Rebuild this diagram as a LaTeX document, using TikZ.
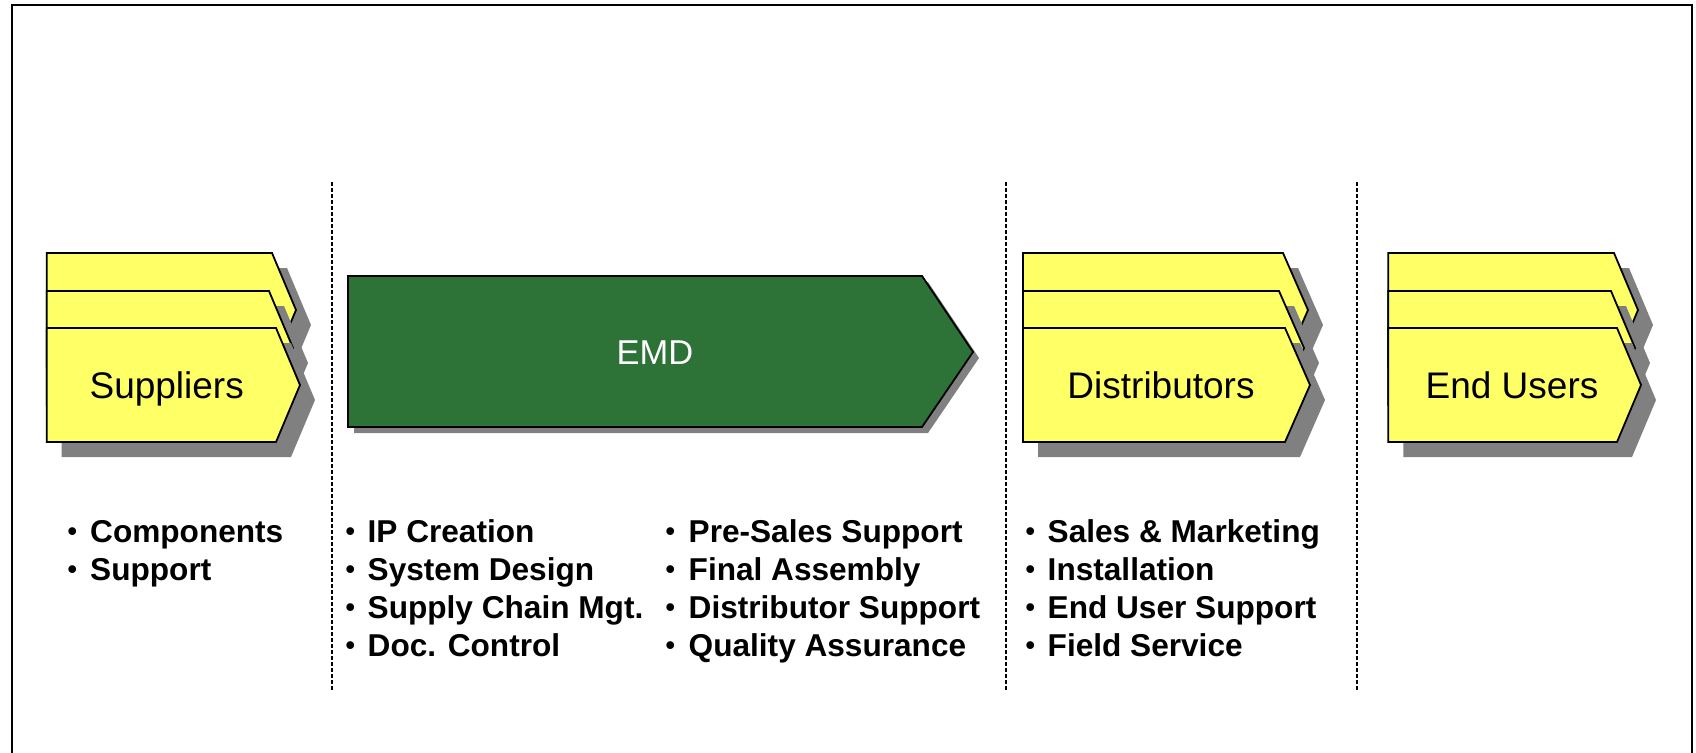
\documentclass[tikz,border=0pt]{standalone}
\usepackage{fontspec}
\setmainfont{Liberation Sans}
\definecolor{ychevfill}{RGB}{255,255,102}
\definecolor{emdgreen}{RGB}{45,115,55}
\definecolor{shadowgray}{RGB}{128,128,128}
% #1 left, #2 top, #3 corner x, #4 tip depth
\newcommand{\ychevron}[4]{%
  \fill[shadowgray] ({#1+15},{#2+15}) -- ({#3+15},{#2+15}) -- ({#3+#4+15},{#2+72}) -- ({#3+15},{#2+129}) -- ({#1+15},{#2+129}) -- cycle;
  \filldraw[ybox] (#1,#2) -- (#3,#2) -- ({#3+#4},{#2+57}) -- (#3,{#2+114}) -- (#1,{#2+114}) -- cycle;
}
\begin{document}
\begin{tikzpicture}[x=1pt,y=-1pt,
  ybox/.style={fill=ychevfill,draw=black,line width=1.8pt,line join=miter},
  ylabel/.style={anchor=base,inner sep=0pt,font=\fontsize{37}{44}\selectfont},
  emdlabel/.style={anchor=base,inner sep=0pt,text=white,font=\fontsize{34.5}{40}\selectfont},
  bul/.style={anchor=base west,inner sep=0pt,font=\bfseries\fontsize{27}{32}\selectfont},
  itemtext/.style={anchor=base west,inner sep=0pt,font=\bfseries\fontsize{31.6}{38}\selectfont},
  sepline/.style={draw=black,line width=1.3pt,dash pattern=on 4pt off 2pt}]
\useasboundingbox (0,0) rectangle (1696,752);
\fill[white] (0,0) rectangle (1696,752);
% frame
\draw[line width=2pt] (12,760) -- (12,5) -- (1692,5) -- (1692,760);
% separators
\coordinate (d1t) at (332,182); \coordinate (d1b) at (332,691);
\coordinate (d2t) at (1006,182); \coordinate (d2b) at (1006,691);
\coordinate (d3t) at (1357,182); \coordinate (d3b) at (1357,691);
\draw[sepline] (d1t) -- (d1b);
\draw[sepline] (d2t) -- (d2b);
\draw[sepline] (d3t) -- (d3b);
% Suppliers stack
\ychevron{46.7}{253}{272}{24}
\ychevron{46.7}{291}{269}{24}
\ychevron{46.7}{328}{276}{24}
\node[ylabel] (suppliers) at (166.7,398) {Suppliers};
% EMD
\fill[shadowgray] (354,282) -- (928,282) -- (979,358) -- (928,433) -- (354,433) -- cycle;
\filldraw[fill=emdgreen,draw=black,line width=1.8pt] (348,276) -- (922,276) -- (973,352) -- (922,427) -- (348,427) -- cycle;
\node[emdlabel] (emd) at (655,364) {EMD};
% Distributors stack
\ychevron{1023}{253}{1283}{25}
\ychevron{1023}{291}{1279}{25}
\ychevron{1023}{328}{1285}{25}
\node[ylabel] (distributors) at (1161,398) {Distributors};
% End Users stack
\ychevron{1388.3}{253}{1614}{24}
\ychevron{1388.3}{291}{1611}{24}
\ychevron{1388.3}{328}{1617}{24}
\node[ylabel] (endusers) at (1512,398) {End Users};
% bullet lists
\foreach \t [count=\i] in {Components,Support}{
  \node[bul] (b1-\i) at (67.5,{502.5+38*\i}) {•};
  \node[itemtext] (c1-\i) at (90,{504+38*\i}) {\t};}
\foreach \t [count=\i] in {IP Creation,System Design,Supply Chain Mgt.,Doc. Control}{
  \node[bul] (b2-\i) at (345.5,{502.5+38*\i}) {•};
  \node[itemtext] (c2-\i) at (367.5,{504+38*\i}) {\t};}
\foreach \t [count=\i] in {Pre-Sales Support,Final Assembly,Distributor Support,Quality Assurance}{
  \node[bul] (b3-\i) at (665.5,{502.5+38*\i}) {•};
  \node[itemtext] (c3-\i) at (688.5,{504+38*\i}) {\t};}
\foreach \t [count=\i] in {Sales \& Marketing,Installation,End User Support,Field Service}{
  \node[bul] (b4-\i) at (1025.5,{502.5+38*\i}) {•};
  \node[itemtext] (c4-\i) at (1047.5,{504+38*\i}) {\t};}
\end{tikzpicture}
\end{document}
